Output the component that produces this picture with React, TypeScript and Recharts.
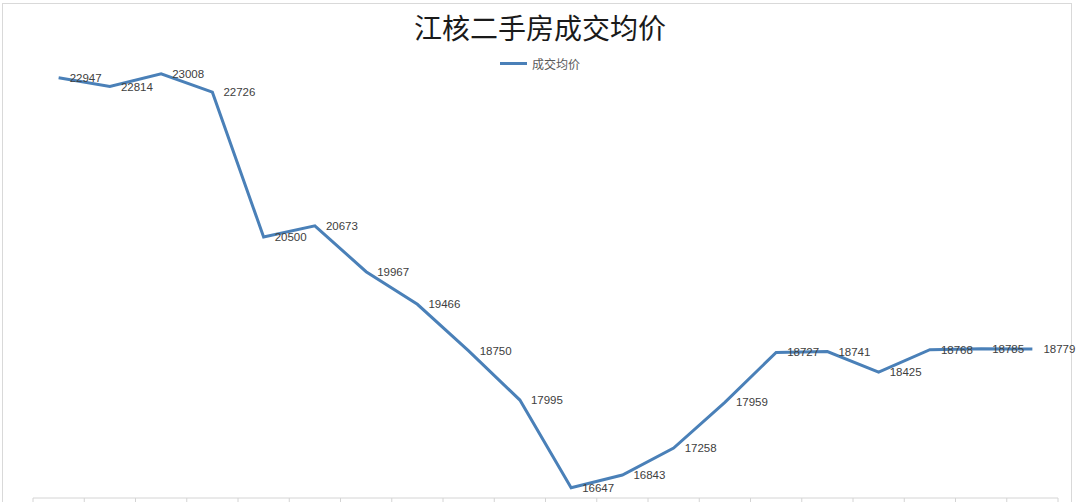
import React from "react";
import { LineChart, Line, XAxis, YAxis, LabelList } from "recharts";

// 成交均价, one per period (no period labels shown on the chart)
const prices = [
  22947, 22814, 23008, 22726, 20500, 20673, 19967, 19466, 18750, 17995,
  16647, 16843, 17258, 17959, 18727, 18741, 18425, 18768, 18785, 18779,
];
const periods = prices.map((_, i) => `P${i + 1}`);

const title = "江核二手房成交均价";
const seriesName = "成交均价";

const data = periods.map((p, i) => ({ name: p, price: prices[i] }));

const LINE = "#4a80b8";
const GRID = "#d4d4d4";

// tick marks sit between categories, like the source chart
function BoundaryTick(props: any) {
  const { x, y, payload, index } = props;
  const half = payload?.offset ?? 0;
  const last = index === periods.length - 1;
  return (
    <g>
      <line x1={x - half} x2={x - half} y1={y} y2={y + 6} stroke={GRID} />
      {last && (
        <line x1={x + half} x2={x + half} y1={y} y2={y + 6} stroke={GRID} />
      )}
    </g>
  );
}

export default function App() {
  return (
    <div
      style={{
        position: "relative",
        width: 1080,
        height: 502,
        background: "#fff",
        overflow: "hidden",
      }}>
      <style>{`body{margin:0}`}</style>
      <div
        style={{
          position: "absolute",
          left: 2,
          top: 3,
          width: 1068,
          height: 520,
          border: "1px solid #d9d9d9",
        }}
      />
      <div
        style={{
          position: "absolute",
          left: 0,
          width: 1080,
          top: 7,
          textAlign: "center",
          fontFamily: "'Noto Sans CJK SC', sans-serif",
          fontSize: 28,
          color: "#1a1a1a",
          lineHeight: "40px",
        }}>
        {title}
      </div>
      <div
        style={{
          position: "absolute",
          left: 500,
          top: 55,
          display: "flex",
          alignItems: "center",
          fontFamily: "'Noto Sans CJK SC', sans-serif",
          fontSize: 12,
          color: "#595959",
        }}>
        <span
          style={{
            display: "inline-block",
            width: 27,
            height: 3,
            background: LINE,
            marginRight: 5,
          }}
        />
        {seriesName}
      </div>
      <div style={{ position: "absolute", left: 0, top: 0 }}>
        <LineChart
          width={1080}
          height={502}
          data={data}
          margin={{ top: 60, right: 22, left: 33, bottom: 0 }}>
          <XAxis
            dataKey="name"
            scale="band"
            height={4}
            tickSize={0}
            tickMargin={0}
            tickLine={false}
            axisLine={{ stroke: GRID }}
            tick={<BoundaryTick />}
            interval={0}
          />
          <YAxis hide domain={[16490, 23220]} />
          <Line
            type="linear"
            dataKey="price"
            stroke={LINE}
            strokeWidth={3}
            dot={false}
            isAnimationActive={false}>
            <LabelList
              dataKey="price"
              position="right"
              offset={11}
              fill="#404040"
              fontSize={11.5}
              fontFamily="'Liberation Sans', sans-serif"
            />
          </Line>
        </LineChart>
      </div>
    </div>
  );
}
